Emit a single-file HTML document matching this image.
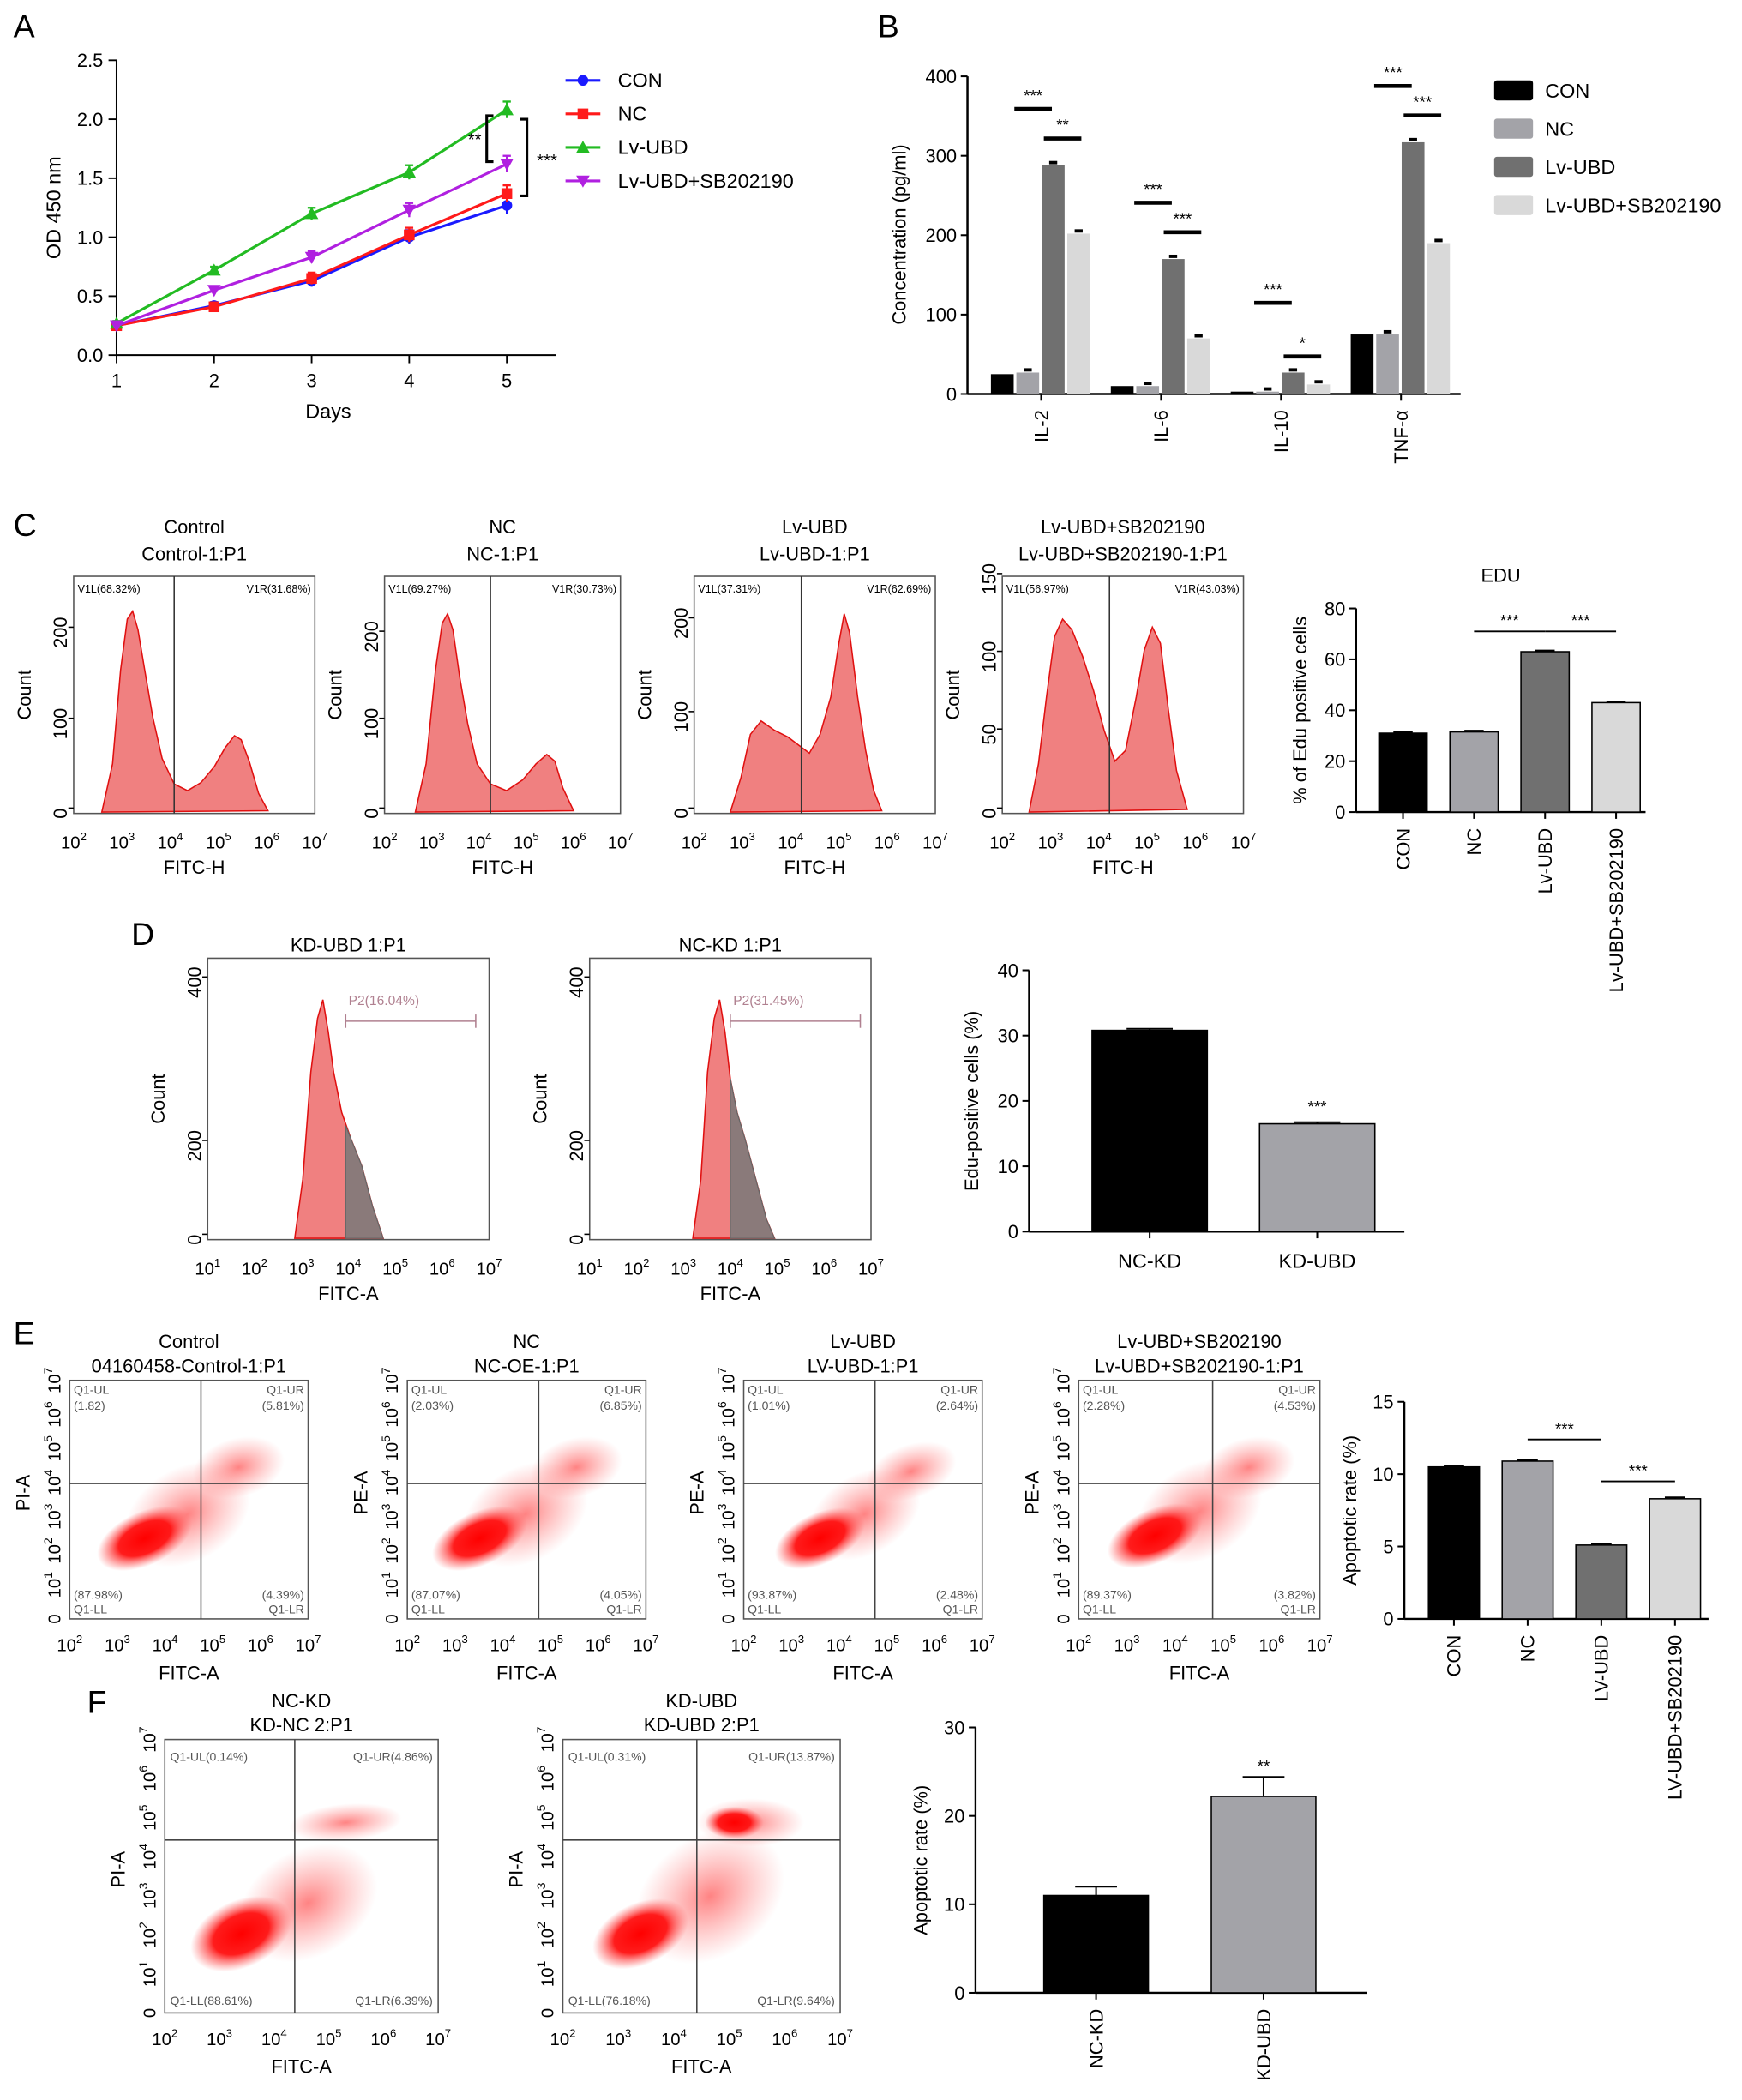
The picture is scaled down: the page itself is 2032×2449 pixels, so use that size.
<!DOCTYPE html>
<html><head><meta charset="utf-8"><style>
html,body{margin:0;padding:0;background:#fff;}
svg{display:block;font-family:"Liberation Sans",Arial,sans-serif;}
</style></head><body>
<svg id="fig" xmlns="http://www.w3.org/2000/svg" width="2032" height="2449" viewBox="0 0 1300 1567" preserveAspectRatio="none">
<defs>
<radialGradient id="cloud" cx="50%" cy="50%" r="50%">
<stop offset="0" stop-color="#ff0000" stop-opacity="1"/>
<stop offset="0.55" stop-color="#ff1010" stop-opacity="0.95"/>
<stop offset="0.8" stop-color="#ff4040" stop-opacity="0.45"/>
<stop offset="1" stop-color="#ff6060" stop-opacity="0"/>
</radialGradient>
<radialGradient id="sparse" cx="50%" cy="50%" r="50%">
<stop offset="0" stop-color="#ff3030" stop-opacity="0.6"/>
<stop offset="1" stop-color="#ff6060" stop-opacity="0"/>
</radialGradient>
</defs>
<g id="root"></g>
</svg>
<script>
// ---------- DATA ----------
const daysA = [1, 2, 3, 4, 5];
const conA = [0.25, 0.42, 0.63, 1.00, 1.27];
const ncA = [0.25, 0.41, 0.65, 1.02, 1.37];
const lvA = [0.27, 0.72, 1.20, 1.55, 2.08];
const sbA = [0.25, 0.55, 0.83, 1.23, 1.62];
const errA = [0.02, 0.03, 0.05, 0.06, 0.07];
const ticksAy = [0.0, 0.5, 1.0, 1.5, 2.0, 2.5];

const cytokines = ["IL-2", "IL-6", "IL-10", "TNF-\u03b1"];
const bCon = [25, 10, 3, 75];
const bNc = [27, 10, 3, 75];
const bLv = [288, 170, 27, 317];
const bSb = [202, 70, 12, 190];
const ticksBy = [0, 100, 200, 300, 400];

const catsC = ["CON", "NC", "Lv-UBD", "Lv-UBD+SB202190"];
const valsC = [31, 31.5, 63, 43];
const ticksCy = [0, 20, 40, 60, 80];

const catsD = ["NC-KD", "KD-UBD"];
const valsD = [30.8, 16.5];
const ticksDy = [0, 10, 20, 30, 40];

const catsE = ["CON", "NC", "LV-UBD", "LV-UBD+SB202190"];
const valsE = [10.5, 10.9, 5.1, 8.3];
const ticksEy = [0, 5, 10, 15];

const catsF = ["NC-KD", "KD-UBD"];
const valsF = [11, 22.2];
const errF = [1, 2.2];
const ticksFy = [0, 10, 20, 30];

// ---------- HELPERS ----------
const NS = "http://www.w3.org/2000/svg";
const root = document.getElementById("root");
function mk(tag, attrs, parent) {
  const e = document.createElementNS(NS, tag);
  for (const k in attrs) e.setAttribute(k, attrs[k]);
  (parent || root).appendChild(e);
  return e;
}
function txt(x, y, s, size, anchor, parent, rot) {
  const t = mk("text", {x: x, y: y, "font-size": size, "text-anchor": anchor || "middle", fill: "#000"}, parent);
  if (rot) t.setAttribute("transform", "rotate(" + rot + " " + x + " " + y + ")");
  t.textContent = s;
  return t;
}
function pow10(x, y, e, parent, size) {
  const t = mk("text", {x: x, y: y, "font-size": size || 14, "text-anchor": "middle", fill: "#000"}, parent);
  const a = mk("tspan", {}, t); a.textContent = "10";
  const b = mk("tspan", {dy: -6, "font-size": (size || 14) * 0.65}, t); b.textContent = e;
  return t;
}
function line(x1, y1, x2, y2, w, c, parent) {
  return mk("line", {x1: x1, y1: y1, x2: x2, y2: y2, stroke: c || "#000", "stroke-width": w || 1.3}, parent);
}

// panel labels
[["A", 10, 28], ["B", 655, 28], ["C", 10, 400], ["D", 98, 705], ["E", 10, 1003], ["F", 65, 1278]].forEach(p => {
  const t = txt(p[1], p[2], p[0], 24, "start");
  
  
});

// ---------- PANEL A ----------
(function () {
  const g = mk("g", {});
  
  
  const X = d => 87 + (d - 1) * 72.8;
  const Y = v => 265 - v * 88;
  line(87, 45, 87, 265, 1.3, "#000", g);
  line(87, 265, 415, 265, 1.3, "#000", g);
  ticksAy.forEach(v => { line(81, Y(v), 87, Y(v), 1.2, "#000", g); txt(77, Y(v) + 5, v.toFixed(1), 14, "end", g); });
  daysA.forEach(d => { line(X(d), 265, X(d), 271, 1.2, "#000", g); txt(X(d), 289, String(d), 14, "middle", g); });
  const xt = txt(245, 312, "Days", 15, "middle", g);
  
  
  const yt = txt(45, 155, "OD 450 nm", 15, "middle", g, -90);
  
  
  const series = [
    {name: "CON", vals: conA, c: "#1a1aff", m: "circle"},
    {name: "NC", vals: ncA, c: "#ff1a1a", m: "square"},
    {name: "Lv-UBD", vals: lvA, c: "#22bb22", m: "up"},
    {name: "Lv-UBD+SB202190", vals: sbA, c: "#b020e0", m: "down"}
  ];
  function marker(m, x, y, c, p) {
    if (m === "circle") return mk("circle", {cx: x, cy: y, r: 4, fill: c}, p);
    if (m === "square") return mk("rect", {x: x - 4, y: y - 4, width: 8, height: 8, fill: c}, p);
    if (m === "up") return mk("path", {d: `M${x},${y - 5}L${x + 5},${y + 4}L${x - 5},${y + 4}Z`, fill: c}, p);
    return mk("path", {d: `M${x},${y + 5}L${x + 5},${y - 4}L${x - 5},${y - 4}Z`, fill: c}, p);
  }
  series.forEach((s, si) => {
    const sg = mk("g", {}, g);
    
    
    const pts = daysA.map((d, i) => X(d) + "," + Y(s.vals[i])).join(" ");
    mk("polyline", {points: pts, fill: "none", stroke: s.c, "stroke-width": 2}, sg);
    daysA.forEach((d, i) => {
      const e = errA[i];
      line(X(d), Y(s.vals[i] - e), X(d), Y(s.vals[i] + e), 1.5, s.c, sg);
      line(X(d) - 3, Y(s.vals[i] + e), X(d) + 3, Y(s.vals[i] + e), 1.5, s.c, sg);
      const mm = marker(s.m, X(d), Y(s.vals[i]), s.c, sg);
      
      
    });
    const ly = 60 + si * 25;
    const lg = mk("g", {}, g);
    
    
    line(422, ly, 448, ly, 2, s.c, lg);
    marker(s.m, 435, ly, s.c, lg);
    txt(461, ly + 5, s.name, 15, "start", lg);
  });
  const x5 = X(5);
  mk("path", {d: `M${x5 - 10},${Y(2.03)}L${x5 - 15},${Y(2.03)}L${x5 - 15},${Y(1.64)}L${x5 - 10},${Y(1.64)}`, fill: "none", stroke: "#000", "stroke-width": 2}, g);
  txt(x5 - 24, Y(1.78), "**", 13, "middle", g);
  mk("path", {d: `M${x5 + 10},${Y(2.0)}L${x5 + 15},${Y(2.0)}L${x5 + 15},${Y(1.35)}L${x5 + 10},${Y(1.35)}`, fill: "none", stroke: "#000", "stroke-width": 2}, g);
  txt(x5 + 30, Y(1.6), "***", 13, "middle", g);
})();

// ---------- PANEL B ----------
(function () {
  const g = mk("g", {});
  
  
  const x0 = 722, y0 = 294, k = 237 / 400;
  const Y = v => y0 - v * k;
  const centers = cytokines.map((c, i) => 777 + i * 89.5);
  line(x0, 57, x0, y0, 1.6, "#000", g);
  line(x0, y0, 1090, y0, 1.6, "#000", g);
  ticksBy.forEach(v => { line(x0 - 5, Y(v), x0, Y(v), 1.3, "#000", g); txt(x0 - 8, Y(v) + 5, String(v), 14, "end", g); });
  const yt = txt(676, 175, "Concentration (pg/ml)", 14, "middle", g, -90);
  
  
  const sers = [bCon, bNc, bLv, bSb];
  const cols = ["#000000", "#a3a3a8", "#707070", "#d9d9d9"];
  const names = ["CON", "NC", "Lv-UBD", "Lv-UBD+SB202190"];
  const offs = [-29, -10, 9, 28];
  cytokines.forEach((c, i) => {
    line(centers[i], y0, centers[i], y0 + 5, 1.3, "#000", g);
    const lt = txt(centers[i] + 5, y0 + 12, c, 14, "end", g, -90);
    
    
    sers.forEach((s, si) => {
      const cx = centers[i] + offs[si];
      const r = mk("rect", {x: cx - 8.5, y: Y(s[i]), width: 17, height: s[i] * k, fill: cols[si]}, g);
      
      
      if (si > 0) { line(cx - 3, Y(s[i]) - 2, cx + 3, Y(s[i]) - 2, 2.5, "#000", g); }
    });
    const a = Math.max(bLv[i], bSb[i]);
    line(centers[i] - 20, Y(a) - 42 + (i === 2 ? -10 : 0), centers[i] + 8, Y(a) - 42 + (i === 2 ? -10 : 0), 3, "#000", g);
    txt(centers[i] - 6, Y(a) - 48 + (i === 2 ? -10 : 0), "***", 12, "middle", g);
    line(centers[i] + 2, Y(a) - 20 + (i === 2 ? 8 : 0), centers[i] + 30, Y(a) - 20 + (i === 2 ? 8 : 0), 3, "#000", g);
    txt(centers[i] + 16, Y(a) - 26 + (i === 2 ? 8 : 0), i === 0 ? "**" : (i === 2 ? "*" : "***"), 12, "middle", g);
  });
  names.forEach((n, si) => {
    const lg = mk("g", {}, g);
    
    
    mk("rect", {x: 1115, y: 60 + si * 28.5, width: 29, height: 15, rx: 2, fill: cols[si]}, lg);
    txt(1153, 73 + si * 28.5, n, 15, "start", lg);
  });
})();

// ---------- generic bar chart ----------
function barChart(o) {
  const g = mk("g", {});
  
  
  const k = (o.y0 - o.yTop) / o.vmax;
  const Y = v => o.y0 - v * k;
  line(o.x0, o.yTop, o.x0, o.y0, 1.5, "#000", g);
  line(o.x0, o.y0, o.x1, o.y0, 1.5, "#000", g);
  o.ticks.forEach(v => { line(o.x0 - 5, Y(v), o.x0, Y(v), 1.3, "#000", g); txt(o.x0 - 8, Y(v) + 5, String(v), 14, "end", g); });
  const yt = txt(o.ytx, (o.y0 + o.yTop) / 2, o.ytitle, 14, "middle", g, -90);
  
  
  if (o.title) txt((o.x0 + o.x1) / 2, o.yTop - 20, o.title, 14, "middle", g);
  const n = o.cats.length;
  const step = o.step || (o.x1 - o.x0) / n;
  const pad = o.pad !== undefined ? o.pad : step / 2;
  const C = i => o.x0 + pad + step * i;
  o.cats.forEach((c, i) => {
    const cx = C(i);
    const v = o.vals[i];
    const r = mk("rect", {x: cx - o.bw / 2, y: Y(v), width: o.bw, height: v * k, fill: o.cols[i], stroke: "#000", "stroke-width": 1}, g);
    
    
    const e = o.errs ? o.errs[i] : o.vmax * 0.006;
    line(cx, Y(v), cx, Y(v + e), 1.3, "#000", g);
    line(cx - o.bw * 0.2, Y(v + e), cx + o.bw * 0.2, Y(v + e), 1.3, "#000", g);
    line(cx, o.y0, cx, o.y0 + 5, 1.3, "#000", g);
    let lt;
    if (o.rot) lt = txt(cx + 5, o.y0 + 12, c, 14, "end", g, -90);
    else lt = txt(cx, o.y0 + 27, c, 15, "middle", g);
    
    
  });
  (o.sig || []).forEach(s => {
    const a = C(s[0]), b = C(s[1]);
    line(a, Y(s[2]), b, Y(s[2]), 1.2, "#000", g);
    txt((a + b) / 2, Y(s[2]) - 4, s[4] || "***", 12, "middle", g);
  });
  return {g: g, Y: Y, C: C};
}

barChart({name: "panel-c-edu-bars", x0: 1012, x1: 1228, y0: 606, yTop: 454, vmax: 80, ticks: ticksCy,
  cats: catsC, vals: valsC, cols: ["#000", "#a3a3a8", "#707070", "#d9d9d9"], bw: 36, rot: true, pad: 35, step: 53,
  ytitle: "% of Edu positive cells", ytx: 975, title: "EDU", sig: [[1, 2, 71], [2, 3, 71]]});
const dChart = barChart({name: "panel-d-edu-bars", x0: 768, x1: 1048, y0: 919, yTop: 724, vmax: 40, ticks: ticksDy,
  cats: catsD, vals: valsD, cols: ["#000", "#a3a3a8"], bw: 86, rot: false, pad: 90, step: 125,
  ytitle: "Edu-positive cells (%)", ytx: 730});
txt(dChart.C(1), 830, "***", 12, "middle", dChart.g);
barChart({name: "panel-e-apoptosis-bars", x0: 1048, x1: 1275, y0: 1208, yTop: 1046, vmax: 15, ticks: ticksEy,
  cats: catsE, vals: valsE, cols: ["#000", "#a3a3a8", "#707070", "#d9d9d9"], bw: 38, rot: true, pad: 37, step: 55,
  ytitle: "Apoptotic rate (%)", ytx: 1012, sig: [[1, 2, 12.4], [2, 3, 9.5]]});
const fChart = barChart({name: "panel-f-apoptosis-bars", x0: 728, x1: 1020, y0: 1487, yTop: 1289, vmax: 30, ticks: ticksFy,
  cats: catsF, vals: valsF, errs: errF, cols: ["#000", "#a3a3a8"], bw: 78, rot: true, pad: 90, step: 125,
  ytitle: "Apoptotic rate (%)", ytx: 692});
txt(fChart.C(1), 1322, "**", 12, "middle", fChart.g);

// ---------- histograms (panel C & D) ----------
function histoBox(o) {
  const g = mk("g", {});
  
  
  mk("rect", {x: o.x, y: o.y, width: o.w, height: o.h, fill: "#fff", stroke: "#555", "stroke-width": 1}, g);
  mk("path", {d: o.path, fill: "#f08080", stroke: "#e01010", "stroke-width": 1}, g);
  if (o.gray) mk("path", {d: o.gray, fill: "#8a7a7a", stroke: "#666", "stroke-width": 0.8}, g);
  if (o.div) line(o.div, o.y, o.div, o.y + o.h, 1, "#333", g);
  o.titles.forEach((t, i) => txt(o.x + o.w / 2 + (o.tdx || 0), o.y - 32 + i * 20 + (o.titles.length === 1 ? 27 : 0), t, 14, "middle", g));
  const y0 = o.y + o.h;
  o.yt.forEach(t => { txt(o.x - 5, t[1], t[0], 14, "middle", g, -90); line(o.x - 4, t[1] - 4, o.x, t[1] - 4, 1, "#000", g); });
  const sp = o.w / (o.exps.length - 1);
  o.exps.forEach((e, i) => pow10(o.x + i * sp, y0 + 26, e, g, 13));
  txt(o.x + o.w / 2, y0 + 45, o.xl, 14, "middle", g);
  txt(o.x - 32, o.y + o.h / 2, "Count", 14, "middle", g, -90);
  if (o.lab) { txt(o.x + 3, o.y + 12, o.lab[0], 8, "start", g); txt(o.x + o.w - 3, o.y + 12, o.lab[1], 8, "end", g); }
  if (o.p2) {
    line(o.p2[0], o.p2[2], o.p2[1], o.p2[2], 1, "#b08090", g);
    line(o.p2[0], o.p2[2] - 5, o.p2[0], o.p2[2] + 5, 1, "#b08090", g);
    line(o.p2[1], o.p2[2] - 5, o.p2[1], o.p2[2] + 5, 1, "#b08090", g);
    const t = txt((o.p2[0] + o.p2[1]) / 2 - 20, o.p2[2] - 12, o.p2[3], 10, "middle", g);
    t.setAttribute("fill", "#b08090");
  }
}
const e27 = ["2", "3", "4", "5", "6", "7"];
histoBox({name: "histogram-control", x: 55, y: 430, w: 180, h: 177, div: 130, titles: ["Control", "Control-1:P1"], tdx: 0,
  yt: [["0", 607], ["100", 540], ["200", 472]], exps: e27, xl: "FITC-H", lab: ["V1L(68.32%)", "V1R(31.68%)"],
  path: "M76,606L84,570L90,500L95,462L99,456L103,470L108,500L114,535L121,566L130,585L140,590L150,584L160,572L168,558L175,549L180,552L186,568L193,592L200,605Z"});
histoBox({name: "histogram-nc", x: 287, y: 430, w: 176, h: 177, div: 366, titles: ["NC", "NC-1:P1"],
  yt: [["0", 607], ["100", 540], ["200", 475]], exps: e27, xl: "FITC-H", lab: ["V1L(69.27%)", "V1R(30.73%)"],
  path: "M310,606L318,570L325,500L330,465L334,458L338,470L343,505L349,540L356,570L366,585L378,590L390,582L400,570L408,563L414,568L420,588L428,605Z"});
histoBox({name: "histogram-lv-ubd", x: 518, y: 430, w: 180, h: 177, div: 598, titles: ["Lv-UBD", "Lv-UBD-1:P1"],
  yt: [["0", 607], ["100", 535], ["200", 465]], exps: e27, xl: "FITC-H", lab: ["V1L(37.31%)", "V1R(62.69%)"],
  path: "M545,606L553,580L560,548L568,538L578,545L588,550L596,556L604,562L612,548L620,520L626,480L630,458L634,472L640,520L646,560L652,590L658,605Z"});
histoBox({name: "histogram-lv-ubd-sb", x: 748, y: 430, w: 180, h: 177, div: 828, titles: ["Lv-UBD+SB202190", "Lv-UBD+SB202190-1:P1"],
  yt: [["0", 607], ["50", 548], ["100", 490], ["150", 432]], exps: e27, xl: "FITC-H", lab: ["V1L(56.97%)", "V1R(43.03%)"],
  path: "M768,606L775,570L781,520L787,475L793,462L800,470L808,490L816,515L824,545L832,568L840,560L848,520L854,485L860,468L866,480L872,530L878,575L886,604Z"});
const e17 = ["1", "2", "3", "4", "5", "6", "7"];
histoBox({name: "histogram-kd-ubd", x: 155, y: 715, w: 210, h: 210, titles: ["KD-UBD 1:P1"],
  yt: [["0", 925], ["200", 855], ["400", 733]], exps: e17, xl: "FITC-A", p2: [258, 355, 762, "P2(16.04%)"],
  path: "M220,924L226,880L232,800L237,760L241,746L245,770L249,800L255,830L262,850L270,870L278,900L286,924Z",
  gray: "M258,924L258,840L262,850L270,870L278,900L286,924Z"});
histoBox({name: "histogram-nc-kd", x: 440, y: 715, w: 210, h: 210, titles: ["NC-KD 1:P1"],
  yt: [["0", 925], ["200", 855], ["400", 733]], exps: e17, xl: "FITC-A", p2: [545, 642, 762, "P2(31.45%)"],
  path: "M517,924L523,880L528,800L533,760L537,746L541,770L545,805L550,830L556,850L564,880L572,910L578,924Z",
  gray: "M545,924L545,805L550,830L556,850L564,880L572,910L578,924Z"});

// ---------- scatter boxes (panel E & F) ----------
function scatterBox(o) {
  const g = mk("g", {});
  
  
  mk("rect", {x: o.x, y: o.y, width: o.w, height: o.h, fill: "#fff", stroke: "#555", "stroke-width": 1}, g);
  o.sparse.forEach(s => mk("ellipse", {cx: s[0], cy: s[1], rx: s[2], ry: s[3], fill: "url(#sparse)", transform: `rotate(${s[4]} ${s[0]} ${s[1]})`}, g));
  o.dense.forEach(s => mk("ellipse", {cx: s[0], cy: s[1], rx: s[2], ry: s[3], fill: "url(#cloud)", transform: `rotate(${s[4]} ${s[0]} ${s[1]})`}, g));
  line(o.vx, o.y, o.vx, o.y + o.h, 1, "#444", g);
  line(o.x, o.hy, o.x + o.w, o.hy, 1, "#444", g);
  o.titles.forEach((t, i) => txt(o.x + o.w / 2, o.y - 24 + i * 18 + (o.titles.length === 1 ? 18 : 0), t, 14, "middle", g));
  const y0 = o.y + o.h;
  const sx = o.w / 5;
  ["2", "3", "4", "5", "6", "7"].forEach((e, i) => pow10(o.x + i * sx, y0 + 24, e, g, 13));
  txt(o.x + o.w / 2, y0 + 45, "FITC-A", 14, "middle", g);
  const sy = o.h / 7;
  for (let i = 0; i <= 7; i++) {
    const yy = y0 - i * sy;
    const t = mk("text", {x: o.x - 7, y: yy, "font-size": 13, "text-anchor": "middle", fill: "#000", transform: `rotate(-90 ${o.x - 7} ${yy})`}, g);
    if (i === 0) { t.textContent = "0"; }
    else { const a = mk("tspan", {}, t); a.textContent = "10"; const b = mk("tspan", {dy: -6, "font-size": 9}, t); b.textContent = String(i); }
  }
  txt(o.x - 30, o.y + o.h / 2 - 5, o.yl, 14, "middle", g, -90);
  const f = o.small ? 8 : 9;
  o.q.forEach(q => { const t = txt(q[0], q[1], q[2], f, q[3], g); t.setAttribute("fill", "#555"); });
}
function eQ(x, y, w, h, ul, ur, ll, lr) {
  return [[x + 3, y + 10, "Q1-UL", "start"], [x + 3, y + 22, ul, "start"], [x + w - 3, y + 10, "Q1-UR", "end"], [x + w - 3, y + 22, ur, "end"],
    [x + 3, y + h - 15, ll, "start"], [x + 3, y + h - 4, "Q1-LL", "start"], [x + w - 3, y + h - 15, lr, "end"], [x + w - 3, y + h - 4, "Q1-LR", "end"]];
}
scatterBox({name: "scatter-control", x: 52, y: 1030, w: 178, h: 178, vx: 150, hy: 1107, yl: "PI-A", titles: ["Control", "04160458-Control-1:P1"],
  dense: [[108, 1148, 38, 20, -25]], sparse: [[178, 1095, 35, 22, -15], [140, 1130, 50, 35, -30]], q: eQ(52, 1030, 178, 178, "(1.82)", "(5.81%)", "(87.98%)", "(4.39%)")});
scatterBox({name: "scatter-nc", x: 304, y: 1030, w: 178, h: 178, vx: 402, hy: 1107, yl: "PE-A", titles: ["NC", "NC-OE-1:P1"],
  dense: [[358, 1148, 38, 20, -25]], sparse: [[430, 1095, 35, 22, -15], [392, 1130, 50, 35, -30]], q: eQ(304, 1030, 178, 178, "(2.03%)", "(6.85%)", "(87.07%)", "(4.05%)")});
scatterBox({name: "scatter-lv-ubd", x: 555, y: 1030, w: 178, h: 178, vx: 653, hy: 1107, yl: "PE-A", titles: ["Lv-UBD", "LV-UBD-1:P1"],
  dense: [[612, 1148, 36, 19, -25]], sparse: [[680, 1098, 35, 20, -20], [645, 1130, 45, 30, -30]], q: eQ(555, 1030, 178, 178, "(1.01%)", "(2.64%)", "(93.87%)", "(2.48%)")});
scatterBox({name: "scatter-lv-ubd-sb", x: 805, y: 1030, w: 180, h: 178, vx: 905, hy: 1107, yl: "PE-A", titles: ["Lv-UBD+SB202190", "Lv-UBD+SB202190-1:P1"],
  dense: [[862, 1146, 38, 20, -25]], sparse: [[932, 1095, 35, 22, -15], [895, 1128, 50, 35, -30]], q: eQ(805, 1030, 180, 178, "(2.28%)", "(4.53%)", "(89.37%)", "(3.82%)")});
function fQ(x, y, w, h, a, b, c, d) {
  return [[x + 4, y + 16, a, "start"], [x + w - 4, y + 16, b, "end"], [x + 4, y + h - 6, c, "start"], [x + w - 4, y + h - 6, d, "end"]];
}
scatterBox({name: "scatter-nc-kd", x: 123, y: 1298, w: 204, h: 204, vx: 220, hy: 1373, yl: "PI-A", titles: ["NC-KD", "KD-NC 2:P1"],
  dense: [[180, 1443, 40, 25, -25]], sparse: [[258, 1360, 42, 14, -5], [230, 1420, 55, 40, -30]], q: fQ(123, 1298, 204, 204, "Q1-UL(0.14%)", "Q1-UR(4.86%)", "Q1-LL(88.61%)", "Q1-LR(6.39%)")});
scatterBox({name: "scatter-kd-ubd", x: 420, y: 1298, w: 207, h: 204, vx: 520, hy: 1373, yl: "PI-A", titles: ["KD-UBD", "KD-UBD 2:P1"],
  dense: [[478, 1443, 38, 23, -25], [548, 1360, 22, 12, 0]], sparse: [[530, 1415, 60, 45, -35], [560, 1360, 40, 18, 0]], q: fQ(420, 1298, 207, 204, "Q1-UL(0.31%)", "Q1-UR(13.87%)", "Q1-LL(76.18%)", "Q1-LR(9.64%)")});
</script>
</body></html>
